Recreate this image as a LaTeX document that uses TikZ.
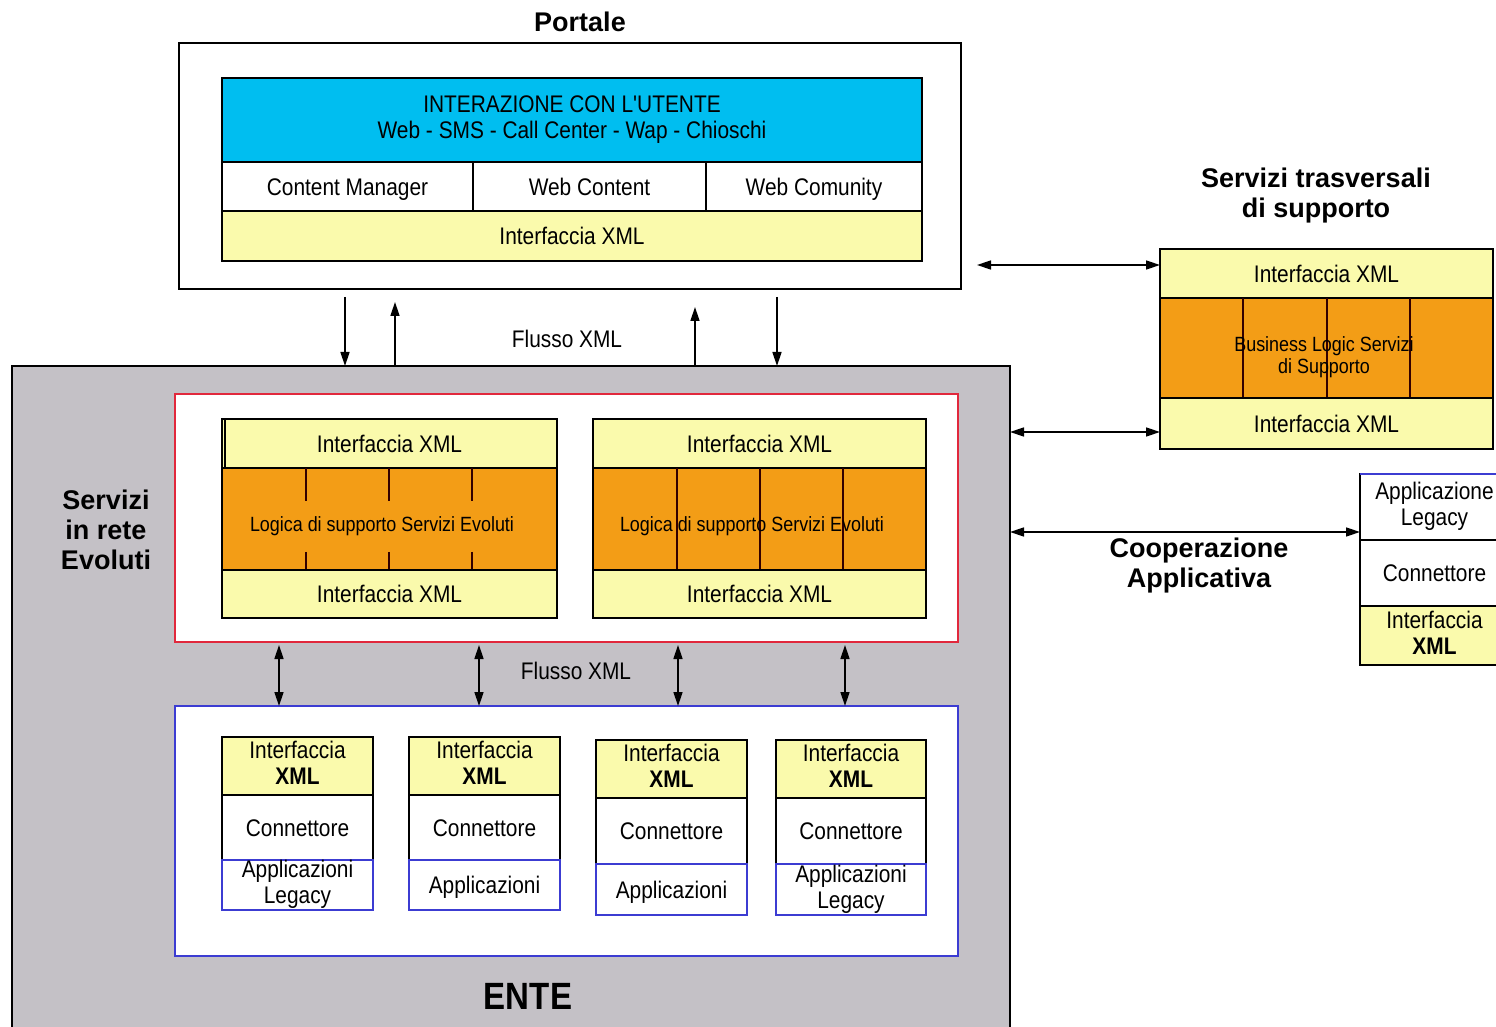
\documentclass[tikz,border=0pt]{standalone}
\usepackage{fontspec}
\setmainfont{Liberation Sans}
\newfontfamily\nf[FakeStretch=0.87]{Liberation Sans}
\usetikzlibrary{arrows.meta}
\definecolor{cyanbar}{RGB}{0,190,240}
\definecolor{ylw}{RGB}{250,250,172}
\definecolor{org}{RGB}{243,157,22}
\definecolor{entegrey}{RGB}{196,193,198}
\definecolor{redb}{RGB}{225,40,60}
\definecolor{blueb}{RGB}{60,60,210}
\newcommand{\cellbox}[7]{\node[#2, minimum width={(#5-#3)*0.5pt}, minimum height={(#6-#4)*0.5pt}] (#1) at ({(#3+#5)/2},{(#4+#6)/2}) {#7};}
\newcommand{\mystrut}{\rule[-0.25em]{0pt}{1.22em}}
\begin{document}
\begin{tikzpicture}[x=0.5pt,y=-0.5pt,
  plain/.style={draw=black, line width=0.7pt, inner sep=0pt, outer sep=0pt, fill=white},
  cell/.style={draw=black, line width=0.7pt, inner sep=0pt, outer sep=0pt, fill=white, align=center, font=\nf\fontsize{12}{13}\selectfont, execute at begin node=\mystrut, execute at end node=\mystrut},
  txt/.style={inner sep=0pt, align=center, font=\nf\fontsize{12}{13}\selectfont},
  small/.style={inner sep=0pt, align=center, font=\nf\fontsize{10.3}{11}\selectfont},
  title/.style={inner sep=0pt, align=center, font=\bfseries\fontsize{13.5}{15}\selectfont},
  divider/.style={draw=black!80!red, line width=0.6pt},
  arr/.style={-{Triangle[length=7pt,width=4.5pt]}, line width=0.75pt},
  dbl/.style={{Triangle[length=7pt,width=4.5pt]}-{Triangle[length=7pt,width=4.5pt]}, line width=0.75pt}]
\clip (0,0) rectangle (1496,1027);
\fill[white] (0,0) rectangle (1496,1027);

% Portale
\node[title] (tportale) at (580,22) {Portale};
\cellbox{portal}{plain}{179}{43}{961}{289}{}
\cellbox{interaz}{cell, fill=cyanbar}{222}{78}{922}{162}{INTERAZIONE CON L'UTENTE\\Web - SMS - Call Center - Wap - Chioschi}
\cellbox{cm}{cell}{222}{162}{473}{211}{Content Manager}
\cellbox{wc}{cell}{473}{162}{706}{211}{Web Content}
\cellbox{wcom}{cell}{706}{162}{922}{211}{Web Comunity}
\cellbox{pxml}{cell, fill=ylw}{222}{211}{922}{261}{Interfaccia XML}

% Servizi trasversali
\node[title] (tserv) at (1316,196) {Servizi trasversali\\di supporto};
\cellbox{sx1}{cell, fill=ylw}{1160}{249}{1493}{298}{Interfaccia XML}
\cellbox{sbl}{cell, fill=org}{1160}{298}{1493}{398}{}
\foreach \x in {1243,1327,1410} {\draw[divider] (\x,298) -- (\x,398);}
\node[small] (sbltext) at (1324,357) {Business Logic Servizi\\di Supporto};
\cellbox{sx2}{cell, fill=ylw}{1160}{398}{1493}{449}{Interfaccia XML}

% ENTE
\cellbox{ente}{plain, fill=entegrey}{12}{366}{1010}{1045}{}
\node[title, font=\nf\bfseries\fontsize{19}{21}\selectfont] (tente) at (528,996) {ENTE};
\node[title] (tsre) at (106,530) {Servizi\\in rete\\Evoluti};

% Servizi evoluti (red box)
\cellbox{rbox}{plain, draw=redb}{175}{394}{958}{642}{}
\cellbox{lx1}{cell, fill=ylw}{222}{419}{557}{468}{Interfaccia XML}
\draw[line width=0.6pt] (225,419) -- (225,468);
\cellbox{lorg}{cell, fill=org}{222}{468}{557}{570}{}
\foreach \x in {306,389,472} {\draw[divider] (\x,468) -- (\x,501); \draw[divider] (\x,552) -- (\x,570);}
\node[small] (ltext) at (382,526) {Logica di supporto Servizi Evoluti};
\cellbox{lx2}{cell, fill=ylw}{222}{570}{557}{618}{Interfaccia XML}

\cellbox{rx1}{cell, fill=ylw}{593}{419}{926}{468}{Interfaccia XML}
\cellbox{rorg}{cell, fill=org}{593}{468}{926}{570}{}
\foreach \x in {677,760,843} {\draw[divider] (\x,468) -- (\x,570);}
\node[small] (rtext) at (752,526) {Logica di supporto Servizi Evoluti};
\cellbox{rx2}{cell, fill=ylw}{593}{570}{926}{618}{Interfaccia XML}

% Applicazioni (blue box)
\cellbox{bbox}{plain, draw=blueb}{175}{706}{958}{956}{}
\cellbox{m1x}{cell, fill=ylw}{222}{737}{373}{795}{Interfaccia\\\textbf{XML}}
\cellbox{m1c}{cell}{222}{795}{373}{860}{Connettore}
\cellbox{m1a}{cell, draw=blueb}{222}{860}{373}{910}{Applicazioni\\Legacy}
\cellbox{m2x}{cell, fill=ylw}{409}{737}{560}{795}{Interfaccia\\\textbf{XML}}
\cellbox{m2c}{cell}{409}{795}{560}{860}{Connettore}
\cellbox{m2a}{cell, draw=blueb}{409}{860}{560}{910}{Applicazioni}
\cellbox{m3x}{cell, fill=ylw}{596}{740}{747}{798}{Interfaccia\\\textbf{XML}}
\cellbox{m3c}{cell}{596}{798}{747}{864}{Connettore}
\cellbox{m3a}{cell, draw=blueb}{596}{864}{747}{915}{Applicazioni}
\cellbox{m4x}{cell, fill=ylw}{776}{740}{926}{798}{Interfaccia\\\textbf{XML}}
\cellbox{m4c}{cell}{776}{798}{926}{864}{Connettore}
\cellbox{m4a}{cell, draw=blueb}{776}{864}{926}{915}{Applicazioni\\Legacy}

% Applicazione esterna
\cellbox{ala}{cell}{1360}{474}{1509}{540}{Applicazione\\Legacy}
\draw[blueb, line width=0.7pt] (1360,474) -- (1509,474);
\cellbox{ac}{cell}{1360}{540}{1509}{606}{Connettore}
\cellbox{ax}{cell, fill=ylw}{1360}{606}{1509}{665}{Interfaccia\\\textbf{XML}}
\node[title] (tcoop) at (1199,566) {Cooperazione\\Applicativa};

% Arrows portal <-> ente
\coordinate (p1) at (345,297);
\coordinate (p2) at (395,302);
\coordinate (p3) at (695,307);
\coordinate (p4) at (777,297);
\draw[arr] (p1) -- (p1 |- ente.north);
\draw[arr] (p2 |- ente.north) -- (p2);
\draw[arr] (p3 |- ente.north) -- (p3);
\draw[arr] (p4) -- (p4 |- ente.north);
\node[txt] (fl1) at (567,339) {Flusso XML};

% Arrows to side services
\coordinate (q1) at (977,265);
\draw[dbl] (q1) -- (q1 -| sx1.west);
\coordinate (q2) at (1160,432);
\draw[dbl] (q2 -| ente.east) -- (q2);
\coordinate (q3) at (1360,532);
\draw[dbl] (q3 -| ente.east) -- (q3 -| ala.west);

% Arrows red <-> blue
\foreach \x [count=\i] in {279,479,678,845} {
  \coordinate (r\i) at (\x,645);
  \draw[dbl] (r\i) -- (r\i |- bbox.north);
}
\node[txt] (fl2) at (576,671) {Flusso XML};
\end{tikzpicture}
\end{document}
